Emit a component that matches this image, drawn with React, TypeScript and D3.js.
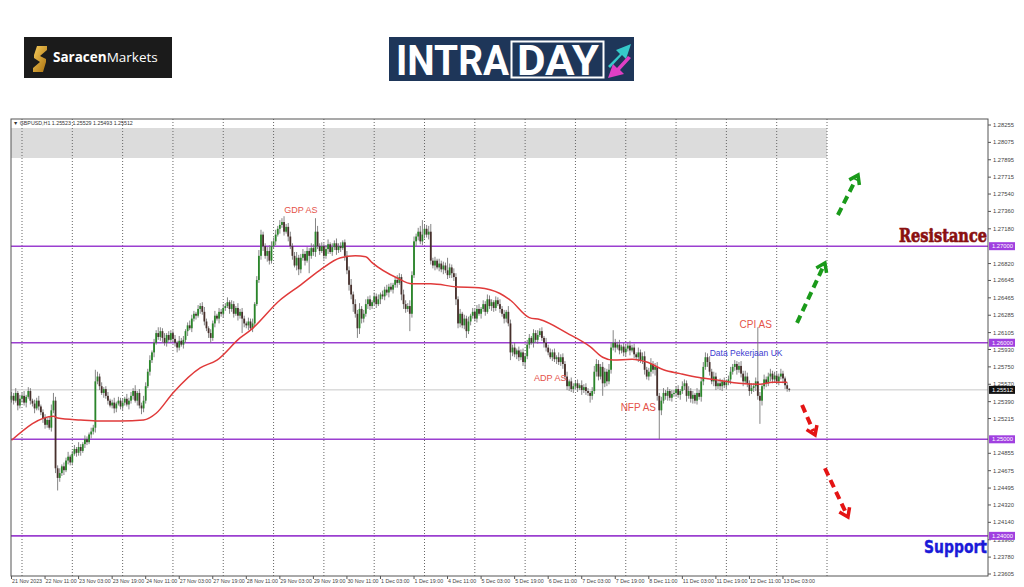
import * as d3 from "d3";

// GBPUSD H1, 21 Nov 2023 19:00 -> 13 Dec 2023 06:00
// closes in pips above 1.2000 (541 -> 1.2541), one per bar
const firstOpen = 1.2541;
const closes = [
  545, 540, 548, 535, 542,
  // 22 Nov
  545, 538, 544, 550, 540, 537, 532, 540, 534, 528, 522, 515, 520, 512, 530, 540, 470, 460, 465, 472, 468, 478, 482, 476,
  // 23 Nov
  485, 490, 486, 492, 488, 495, 500, 497, 505, 508, 512, 560, 565, 555, 548, 552, 545, 540, 535, 538, 532, 537, 540, 534,
  // 24 Nov
  538, 542, 536, 540, 545, 550, 540, 548, 535, 532, 540, 555, 570, 582, 590, 600, 610, 606, 612, 605, 600, 608, 603, 610,
  // 27 Nov
  604, 600, 595, 602, 598, 603, 612, 618, 615, 625, 630, 628, 635, 638, 632, 622, 615, 610, 605, 620, 628, 625, 632, 630,
  // 28 Nov
  636, 638, 642, 635, 640, 630, 636, 628, 632, 625, 620, 618, 622, 615, 620, 640, 665, 690, 712, 700, 690, 695, 685, 700,
  // 29 Nov
  705, 712, 718, 722, 725, 715, 720, 710, 700, 690, 680, 688, 676, 688, 692, 685, 695, 690, 698, 694, 715, 700, 695, 700,
  // 30 Nov
  690, 697, 702, 694, 699, 703, 696, 700, 698, 704, 690, 675, 660, 650, 640, 630, 615, 635, 625, 630, 640, 645, 638, 642,
  // 1 Dec
  648, 640, 645, 650, 648, 655, 652, 658, 655, 660, 665, 662, 668, 650, 640, 635, 638, 630, 670, 705, 710, 715, 705, 712,
  // 4 Dec
  718, 712, 715, 685, 680, 685, 678, 682, 676, 680, 675, 670, 678, 672, 668, 645, 620, 630, 618, 625, 612, 622, 628, 632,
  // 5 Dec
  625, 635, 630, 635, 640, 632, 645, 638, 642, 636, 644, 640, 635, 630, 625, 632, 620, 590, 595, 588, 592, 585, 590, 580,
  // 6 Dec
  586, 598, 605, 600, 610, 603, 608, 612, 605, 600, 595, 590, 585, 590, 583, 585, 580, 585, 578, 565, 555, 560, 552, 555,
  // 7 Dec
  558, 553, 556, 551, 554, 550, 548, 545, 550, 570, 578, 565, 575, 558, 570, 560, 572, 595, 600, 595, 598, 592, 596, 590,
  // 8 Dec
  594, 597, 592, 595, 588, 585, 590, 582, 586, 572, 565, 570, 578, 572, 575, 545, 530, 540, 548, 545, 550, 543, 547, 548,
  // 11 Dec
  552, 546, 550, 555, 558, 545, 550, 542, 546, 540, 548, 544, 560, 575, 585, 580, 570, 560, 565, 555, 558, 555, 560, 556,
  // 12 Dec
  559, 562, 570, 575, 578, 572, 576, 568, 560, 565, 558, 550, 553, 555, 560, 545, 540, 555, 562, 558, 565, 568, 562, 566,
  // 13 Dec
  560, 565, 568, 563, 556, 552.3, 551.2,
];
const upperWicks = [
  4, 3, 5, 2, 4,
  3, 5, 2, 4, 3, 2, 4, 3, 5, 2, 3, 4, 2, 3, 6, 8, 4, 3, 5, 2, 4, 3, 5, 2,
  3, 4, 2, 5, 3, 2, 4, 3, 2, 4, 3, 12, 5, 3, 4, 2, 3, 4, 2, 3, 5, 2, 4, 3,
  4, 2, 5, 3, 4, 3, 6, 2, 4, 3, 5, 4, 3, 5, 2, 4, 3, 6, 4, 3, 5, 2, 4, 3,
  3, 4, 2, 5, 3, 4, 2, 3, 5, 4, 3, 2, 4, 3, 4, 5, 3, 2, 4, 3, 5, 2, 4, 3,
  4, 3, 5, 2, 4, 3, 2, 5, 3, 4, 3, 2, 4, 3, 5, 2, 4, 6, 5, 3, 3, 4, 6, 5,
  4, 5, 3, 5, 4, 6, 3, 4, 5, 3, 4, 6, 3, 4, 5, 3, 4, 3, 5, 4, 14, 6, 3, 4,
  3, 4, 5, 2, 4, 3, 5, 3, 4, 2, 3, 5, 4, 6, 3, 5, 4, 6, 3, 4, 5, 3, 4, 2,
  4, 3, 5, 2, 4, 3, 5, 3, 4, 2, 3, 5, 4, 3, 5, 4, 3, 6, 4, 5, 3, 4, 6, 15,
  5, 4, 6, 8, 3, 4, 2, 5, 3, 4, 3, 13, 4, 3, 5, 4, 3, 5, 2, 4, 3, 5, 2, 4,
  3, 4, 5, 2, 4, 3, 5, 4, 3, 2, 4, 3, 5, 3, 4, 2, 6, 4, 3, 5, 2, 4, 3, 4,
  3, 5, 4, 2, 4, 3, 5, 3, 4, 2, 5, 3, 4, 3, 4, 2, 5, 3, 4, 3, 5, 2, 4, 3,
  3, 4, 2, 5, 3, 4, 3, 2, 4, 6, 5, 4, 3, 5, 4, 3, 6, 5, 13, 4, 3, 5, 2, 4,
  4, 3, 5, 3, 4, 2, 5, 3, 4, 5, 3, 4, 6, 3, 4, 5, 3, 4, 5, 3, 4, 2, 4, 3,
  3, 4, 2, 5, 4, 3, 5, 3, 4, 2, 5, 3, 4, 5, 5, 4, 6, 3, 5, 4, 3, 5, 2, 4,
  3, 4, 5, 3, 4, 3, 4, 5, 3, 6, 4, 3, 5, 3, 4, 56, 4, 3, 5, 3, 4, 5, 3, 4,
  4, 3, 5, 3, 2, 3, 0.6,
];
const lowerWicks = [
  3, 4, 2, 5, 3,
  4, 3, 5, 2, 4, 3, 5, 2, 4, 3, 5, 4, 3, 2, 4, 3, 5, 13, 4, 3, 5, 2, 4, 3,
  3, 2, 4, 3, 5, 2, 4, 3, 2, 4, 3, 5, 3, 4, 2, 5, 3, 4, 2, 3, 5, 4, 2, 3,
  4, 3, 2, 5, 3, 4, 2, 5, 3, 6, 4, 3, 2, 4, 3, 5, 2, 3, 4, 5, 3, 4, 2, 3,
  3, 4, 5, 3, 2, 4, 3, 5, 2, 4, 3, 4, 2, 5, 3, 4, 3, 5, 5, 3, 4, 2, 5, 3,
  4, 3, 2, 5, 3, 4, 2, 5, 3, 15, 4, 3, 5, 2, 4, 3, 2, 3, 4, 5, 3, 6, 4, 3,
  3, 4, 2, 5, 3, 4, 2, 5, 3, 4, 2, 5, 6, 4, 3, 5, 2, 18, 3, 4, 5, 3, 4, 2,
  4, 3, 5, 2, 4, 3, 5, 3, 4, 2, 5, 4, 6, 5, 8, 4, 10, 6, 5, 4, 3, 5, 4, 3,
  3, 4, 2, 5, 3, 4, 3, 5, 2, 4, 3, 5, 2, 6, 5, 4, 3, 18, 4, 3, 5, 4, 3, 4,
  4, 3, 5, 4, 3, 5, 2, 4, 3, 5, 3, 4, 3, 5, 4, 6, 5, 4, 3, 4, 7, 3, 4, 3,
  3, 4, 2, 5, 3, 4, 2, 3, 5, 4, 3, 2, 4, 3, 5, 4, 3, 8, 4, 3, 5, 4, 3, 4,
  7, 3, 4, 2, 5, 3, 4, 2, 3, 5, 4, 3, 2, 4, 3, 5, 3, 4, 5, 3, 4, 5, 3, 4,
  3, 4, 2, 5, 3, 4, 3, 7, 4, 3, 5, 4, 3, 13, 4, 5, 3, 4, 3, 5, 2, 4, 3, 4,
  4, 3, 5, 2, 4, 3, 5, 3, 4, 5, 3, 4, 5, 4, 6, 5, 30, 5, 3, 4, 5, 3, 4, 3,
  4, 3, 5, 3, 4, 6, 3, 4, 5, 3, 4, 3, 5, 4, 3, 5, 4, 3, 5, 4, 3, 4, 5, 3,
  4, 3, 5, 3, 4, 5, 3, 4, 5, 3, 4, 5, 3, 4, 5, 4, 24, 5, 3, 4, 3, 5, 4, 3,
  3, 4, 3, 5, 4, 3, 1.9,
];

// moving average
const maBars = [0, 20, 22, 33, 42, 52, 63, 69, 77, 90, 98, 109, 114, 128, 138, 147, 157, 164, 169, 172, 184, 191, 200, 212, 223, 233, 238, 247, 252, 265, 276, 282, 287, 296, 303, 311, 319, 328, 338, 347, 357, 363, 370];
const maValues = [1.2499, 1.2524, 1.2522, 1.252, 1.2519, 1.2519, 1.252, 1.2527, 1.2548, 1.2574, 1.2582, 1.2605, 1.2613, 1.2644, 1.266, 1.2675, 1.2688, 1.269, 1.2689, 1.2683, 1.2667, 1.2661, 1.2661, 1.2658, 1.2657, 1.2651, 1.2644, 1.2626, 1.2624, 1.261, 1.2596, 1.2585, 1.2582, 1.2583, 1.258, 1.2572, 1.2568, 1.2564, 1.2561, 1.2558, 1.2557, 1.2559, 1.2559];

const priceTicks = [1.28255, 1.28075, 1.27895, 1.27715, 1.2754, 1.2736, 1.2718, 1.2682, 1.26645, 1.26465, 1.26285, 1.26105, 1.2593, 1.2575, 1.2557, 1.2539, 1.25215, 1.24855, 1.24675, 1.24495, 1.2432, 1.2414, 1.2396, 1.2378, 1.23605];
const levels = [1.27, 1.26, 1.25, 1.24];
const lastPrice = 1.25512;
const zone = [1.28224, 1.27913];

const xLabels = ["21 Nov 2023", "22 Nov 11:00", "23 Nov 03:00", "23 Nov 19:00", "24 Nov 11:00", "27 Nov 03:00", "27 Nov 19:00", "28 Nov 11:00", "29 Nov 03:00", "29 Nov 19:00", "30 Nov 11:00", "1 Dec 03:00", "1 Dec 19:00", "4 Dec 11:00", "5 Dec 03:00", "5 Dec 19:00", "6 Dec 11:00", "7 Dec 03:00", "7 Dec 19:00", "8 Dec 11:00", "11 Dec 03:00", "11 Dec 19:00", "12 Dec 11:00", "13 Dec 03:00"];

const notes = [
  { text: "GDP AS", bar: 138, price: 1.27344, color: "#e5524a", size: 9 },
  { text: "ADP AS", bar: 257, price: 1.25604, color: "#e5524a", size: 9 },
  { text: "NFP AS", bar: 299, price: 1.25293, color: "#e5524a", size: 10 },
  { text: "CPI AS", bar: 355, price: 1.26153, color: "#e5524a", size: 10 },
  { text: "Data Pekerjaan UK", bar: 350.4, price: 1.25863, color: "#3b3bd0", size: 8.5 },
];

const arrows = [
  { from: [374.7, 1.26205], to: [388, 1.26826], color: "#1a9a1a" },
  { from: [394.2, 1.27323], to: [403.8, 1.27737], color: "#1a9a1a" },
  { from: [377.1, 1.25355], to: [383.3, 1.25045], color: "#e41414" },
  { from: [388, 1.247], to: [399, 1.24195], color: "#e41414" },
];

const frame = { left: 11, right: 988, top: 119, bottom: 576 };
const axisFont = "Liberation Sans, Arial, sans-serif";

const Candles = () => {
  const x = d3.scaleLinear().domain([5, 389]).range([22, 827]);
  const y = d3.scaleLinear().domain([1.28255, 1.23605]).range([125, 574]);

  const bars = closes.map((c, i) => {
    const close = 1.2 + c / 1e4;
    const open = i === 0 ? firstOpen : 1.2 + closes[i - 1] / 1e4;
    const high = Math.max(open, close) + upperWicks[i] / 1e4;
    const low = Math.min(open, close) - lowerWicks[i] / 1e4;
    return { i, open, close, high, low };
  });

  const maLine = d3
    .line<number>()
    .x((_, k) => x(maBars[k]))
    .y(d => y(d))
    .curve(d3.curveMonotoneX);

  const separators = d3.range(5, 390, 24);

  return (
    <g>
      {/* grey zone */}
      <rect x={frame.left} y={y(zone[0])} width={x(389) - frame.left} height={y(zone[1]) - y(zone[0])} fill="#dcdcdc" />
      {separators.map(s => (
        <line key={s} x1={x(s)} x2={x(s)} y1={frame.top} y2={frame.bottom} stroke="#666" strokeDasharray="1 2" />
      ))}
      <line x1={frame.left} x2={frame.right} y1={y(lastPrice)} y2={y(lastPrice)} stroke="#c8c8c8" />
      {levels.map(l => (
        <line key={l} x1={frame.left} x2={frame.right} y1={y(l)} y2={y(l)} stroke="#9b3fd0" strokeWidth={1.6} />
      ))}

      {bars.map(b => {
        const up = b.close >= b.open;
        const top = y(Math.max(b.open, b.close));
        const h = Math.max(0.9, Math.abs(y(b.open) - y(b.close)));
        return (
          <g key={b.i}>
            <line x1={x(b.i)} x2={x(b.i)} y1={y(b.high)} y2={y(b.low)} stroke="#777" strokeWidth={0.9} />
            <rect x={x(b.i) - 0.9} y={top} width={1.8} height={h} fill={up ? "#2a862a" : "#47302c"} />
          </g>
        );
      })}

      <path d={maLine(maValues) ?? ""} fill="none" stroke="#e03a3a" strokeWidth={1.5} />

      {notes.map(n => (
        <text key={n.text} x={x(n.bar)} y={y(n.price)} fill={n.color} fontSize={n.size} textAnchor="middle" fontFamily={axisFont}>
          {n.text}
        </text>
      ))}

      {arrows.map((a, k) => {
        const x1 = x(a.from[0]), y1 = y(a.from[1]);
        const x2 = x(a.to[0]), y2 = y(a.to[1]);
        const ang = Math.atan2(y2 - y1, x2 - x1);
        const hl = 10;
        const p1 = [x2 - hl * Math.cos(ang - 0.6), y2 - hl * Math.sin(ang - 0.6)];
        const p2 = [x2 - hl * Math.cos(ang + 0.6), y2 - hl * Math.sin(ang + 0.6)];
        return (
          <g key={k}>
            <line x1={x1} y1={y1} x2={x2 - 4 * Math.cos(ang)} y2={y2 - 4 * Math.sin(ang)} stroke={a.color} strokeWidth={4} strokeDasharray="8 5" />
            <polyline points={`${p1[0]},${p1[1]} ${x2},${y2} ${p2[0]},${p2[1]}`} fill="none" stroke={a.color} strokeWidth={3.5} strokeLinejoin="miter" />
          </g>
        );
      })}

      {/* frame */}
      <rect x={frame.left} y={frame.top} width={frame.right - frame.left} height={frame.bottom - frame.top} fill="none" stroke="#555" strokeWidth={1} />

      {/* right price axis */}
      {priceTicks.map(t => (
        <g key={t}>
          <line x1={frame.right} x2={frame.right + 3} y1={y(t)} y2={y(t)} stroke="#555" />
          <text x={frame.right + 5} y={y(t)} dy="0.35em" fontSize={5.8} fill="#444" fontFamily={axisFont}>
            {t.toFixed(5)}
          </text>
        </g>
      ))}
      {levels.map(l => (
        <g key={l}>
          <rect x={frame.right + 1} y={y(l) - 4} width={26} height={8} fill="#a040e0" />
          <text x={frame.right + 4} y={y(l)} dy="0.35em" fontSize={5.8} fill="#fff" fontFamily={axisFont}>
            {l.toFixed(5)}
          </text>
        </g>
      ))}
      <rect x={frame.right + 1} y={y(lastPrice) - 4} width={26} height={8} fill="#111" />
      <text x={frame.right + 4} y={y(lastPrice)} dy="0.35em" fontSize={5.8} fill="#fff" fontFamily={axisFont}>
        {lastPrice.toFixed(5)}
      </text>

      {/* time axis */}
      {xLabels.map((lab, k) => (
        <g key={lab}>
          <line x1={x(k * 16)} x2={x(k * 16)} y1={frame.bottom} y2={frame.bottom + 3} stroke="#555" />
          <text x={x(k * 16) + 0.5} y={582.5} fontSize={5.3} fill="#444" fontFamily={axisFont}>
            {lab}
          </text>
        </g>
      ))}

      <text x={13} y={124.5} fontSize={5.3} fill="#333" fontFamily={axisFont}>
        ▼ GBPUSD,H1  1.25523 1.25529 1.25493 1.25512
      </text>

      <text x={987} y={242} textAnchor="end" fontSize={19} fontWeight="bold" fill="#8a1010" stroke="#8a1010" strokeWidth={0.7} fontFamily="DejaVu Serif, serif" textLength={88} lengthAdjust="spacingAndGlyphs">
        Resistance
      </text>
      <text x={987} y={553} textAnchor="end" fontSize={17.5} fontWeight="bold" fill="#1a1ad8" stroke="#1a1ad8" strokeWidth={0.4} fontFamily="DejaVu Sans, sans-serif" textLength={63} lengthAdjust="spacingAndGlyphs">
        Support
      </text>
    </g>
  );
};

const Logos = () => (
  <g>
    <defs>
      <linearGradient id="gold" x1="0" y1="0" x2="1" y2="1">
        <stop offset="0" stopColor="#f7cd5c" />
        <stop offset="1" stopColor="#a86f0e" />
      </linearGradient>
    </defs>
    <rect x={24} y={37} width={148} height={41} fill="#1b1b1b" />
    <path d="M37,46 L47,46 L47,50 L40,56 L46,59 L46,62 L43,72 L33,72 L33,68 L40,62 L34,58 L34,55 Z" fill="url(#gold)" />
    <text x={53} y={62} fontSize={13.5} fill="#fff" fontFamily="Open Sans, sans-serif">
      <tspan fontWeight="bold">Saracen</tspan>
      <tspan>Markets</tspan>
    </text>

    <rect x={389} y={37} width={245} height={44} fill="#1e3659" />
    <text x={396} y={75} fontSize={42} fontWeight="bold" fill="#fff" fontFamily="Roboto, sans-serif" textLength={113} lengthAdjust="spacingAndGlyphs">
      INTRA
    </text>
    <rect x={511.5} y={41.5} width={92} height={36} fill="none" stroke="#fff" strokeWidth={2} />
    <text x={517} y={75} fontSize={42} fontWeight="bold" fill="#fff" fontFamily="Roboto, sans-serif" textLength={82} lengthAdjust="spacingAndGlyphs">
      DAY
    </text>
    <path d="M608,66 L620,54 L616,50 L631,44 L626,59 L622,55 L610,68 Z" fill="#35c9c9" />
    <path d="M631,58 L620,70 L624,74 L608,78 L613,64 L617,68 L628,56 Z" fill="#e03fc4" />
  </g>
);

const App = () => (
  <svg width={1024} height={587} style={{ position: "absolute", left: 0, top: 0, background: "#fff" }}>
    <rect width={1024} height={587} fill="#fff" />
    <Logos />
    <Candles />
  </svg>
);

export default App;
